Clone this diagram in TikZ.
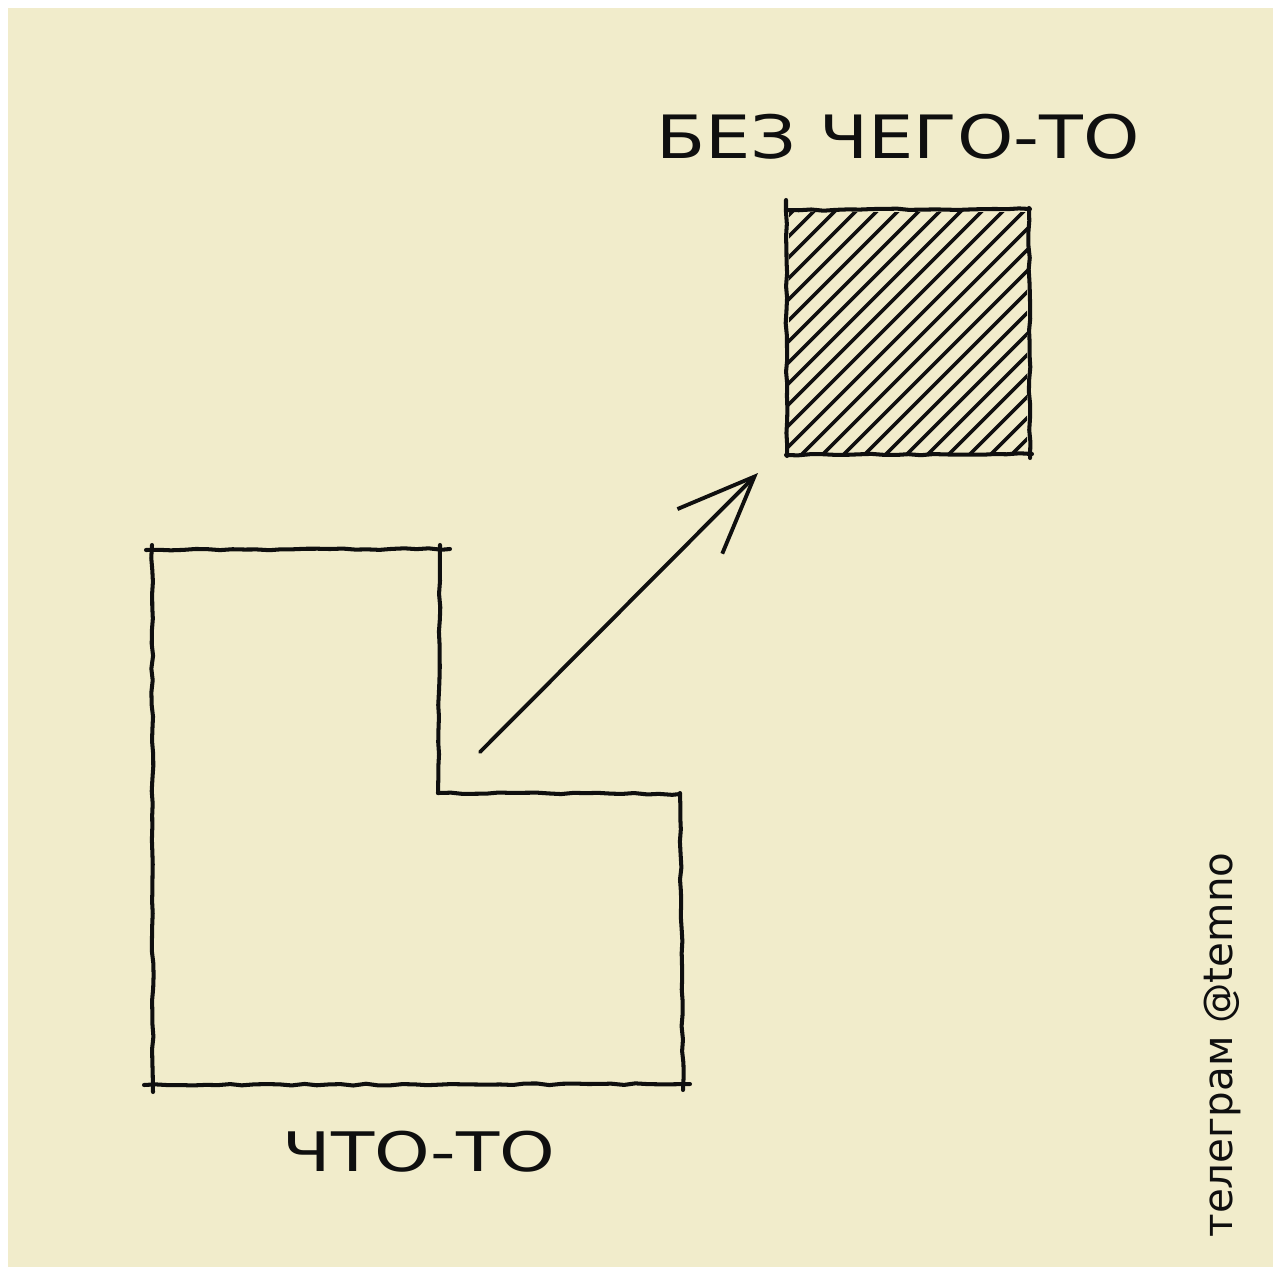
\documentclass[tikz,border=0pt]{standalone}
\usepackage{fontspec}
\setmainfont{DejaVu Sans}
\usetikzlibrary{arrows.meta,decorations.pathmorphing,positioning}
\definecolor{papercream}{RGB}{241,236,203}
\definecolor{inkblack}{RGB}{15,15,15}

\begin{document}
\pgfmathsetseed{7}
\begin{tikzpicture}[
  x=0.02cm, y=-0.02cm,
  sketch/.style={draw=inkblack,line width=2.3pt,line cap=round,decorate,decoration={random steps,segment length=7pt,amplitude=0.5pt}},
  hatch/.style={draw=inkblack,line width=2pt,line cap=round},
  caption/.style={font=\fontsize{34}{34}\selectfont,inner sep=0pt,text=inkblack},
  pointer/.style={-{Straight Barb[length=44pt,width=36pt]},draw=inkblack,line width=2.2pt,line cap=round}
]
  \useasboundingbox (0,0) rectangle (1273,1267);
  \fill[white] (0,0) rectangle (1273,1267);
  \fill[papercream] (8,8) rectangle (1273,1267);

  % L-shaped "something"
  \draw[sketch] (146,550) -- (450,549);
  \draw[sketch] (152,545) -- (153,1092);
  \draw[sketch] (440,545) -- (438,793);
  \draw[sketch] (438,793) -- (680,794);
  \draw[sketch] (680,793) -- (683,1090);
  \draw[sketch] (144,1085) -- (690,1084);

  % hatched square
  \begin{scope}
    \clip (789,212) rectangle (1027,452);
    \foreach \c in {1004,1025,...,1484}
      \draw[hatch] (786,\c-786) -- (1030,\c-1030);
  \end{scope}
  \draw[sketch] (786,210) -- (1030,209);
  \draw[sketch] (786,200) -- (787,456);
  \draw[sketch] (1029,208) -- (1030,458);
  \draw[sketch] (786,455) -- (1032,454);

  % arrow
  \coordinate (from) at (480,752);
  \coordinate (to) at (758,473);
  \draw[pointer] (from) -- (to);

  \node[caption,xscale=1.2] (title) at (898,137) {БЕЗ ЧЕГО-ТО};
  \node[caption,font=\fontsize{31}{31}\selectfont,xscale=1.3] (label) at (419,1152) {ЧТО-ТО};
  \node[caption,font=\fontsize{23}{23}\selectfont,rotate=90] (credit) at (1222,1045) {телеграм @temno};
\end{tikzpicture}
\end{document}
